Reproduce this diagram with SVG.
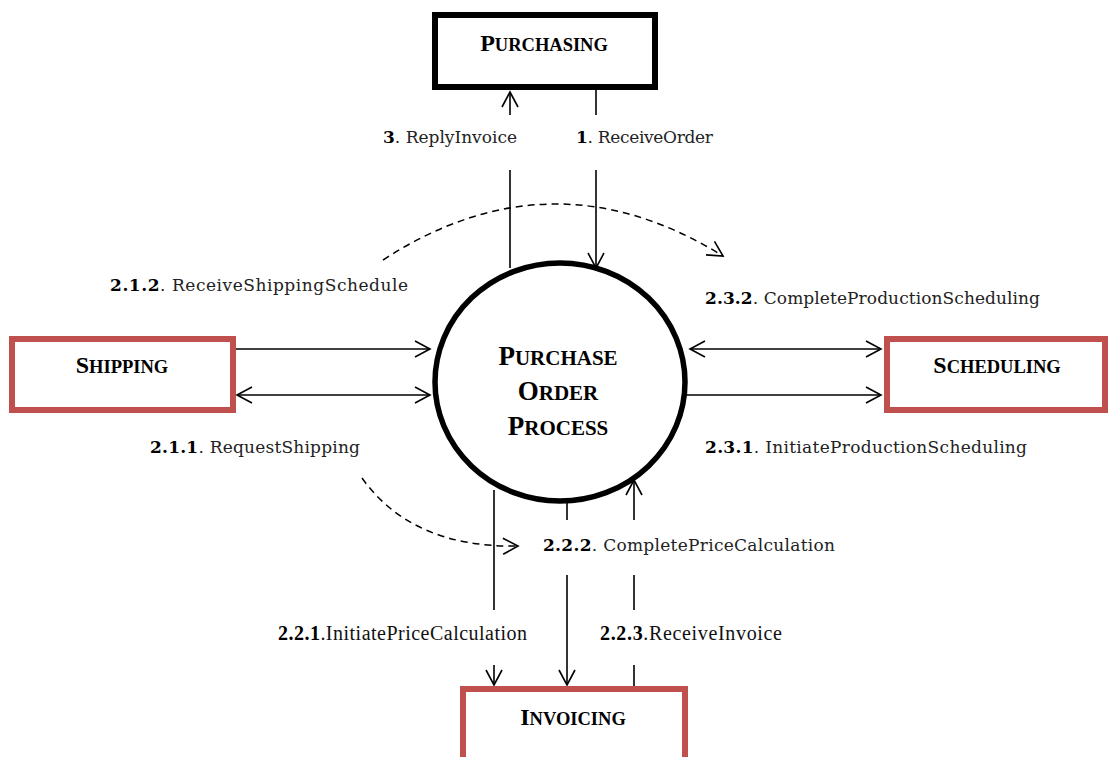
<svg xmlns="http://www.w3.org/2000/svg" width="1109" height="757" viewBox="0 0 1109 757">
  <style>
    .ext { fill: #fff; stroke: #C0504D; stroke-width: 6; }
    .main { fill: #fff; stroke: #000; stroke-width: 6; }
    .proc { fill: #fff; stroke: #000; stroke-width: 5.5; }
    .title { font-family: "Liberation Serif", "Times New Roman", serif; font-weight: bold; fill: #000; text-anchor: middle; }
    .big { font-size: 24px; }
    .sc { font-size: 18.5px; }
    .pbig { font-size: 27px; }
    .psc { font-size: 21px; }
    .lbl { font-family: "DejaVu Serif", serif; font-size: 17px; fill: #222; }
    .lbl2 { font-family: "Liberation Serif", "Times New Roman", serif; font-size: 20px; fill: #111; }
    .b { font-weight: bold; fill: #000; }
    .flow { fill: none; stroke: #000; stroke-width: 1.6; }
    .dash { fill: none; stroke: #000; stroke-width: 1.5; stroke-dasharray: 7 5; }
  </style>
  <defs>
    <marker id="arrow" viewBox="0 0 18 18" refX="16" refY="9" markerWidth="18" markerHeight="18" markerUnits="userSpaceOnUse" orient="auto-start-reverse">
      <path d="M1,1 L16,9 L1,17" fill="none" stroke="#000" stroke-width="1.6"/>
    </marker>
  </defs>

  <rect width="1109" height="757" fill="#fff"/>

  <!-- connectors -->
  <g id="connectors">
    <!-- 3. ReplyInvoice (up to Purchasing) -->
    <line class="flow" x1="510" y1="268" x2="510" y2="170"/>
    <line class="flow" x1="510" y1="115" x2="510" y2="92" marker-end="url(#arrow)"/>
    <!-- 1. ReceiveOrder (down to the process) -->
    <line class="flow" x1="596" y1="90" x2="596" y2="115"/>
    <line class="flow" x1="596" y1="170" x2="596" y2="268" marker-end="url(#arrow)"/>

    <!-- Shipping side -->
    <line class="flow" x1="234" y1="349" x2="430" y2="349" marker-end="url(#arrow)"/>
    <line class="flow" x1="237" y1="395" x2="430" y2="395" marker-start="url(#arrow)" marker-end="url(#arrow)"/>

    <!-- Scheduling side -->
    <line class="flow" x1="690" y1="349" x2="881" y2="349" marker-start="url(#arrow)" marker-end="url(#arrow)"/>
    <line class="flow" x1="686" y1="395" x2="881" y2="395" marker-end="url(#arrow)"/>

    <!-- Invoicing side -->
    <line class="flow" x1="494" y1="490" x2="494" y2="610"/>
    <line class="flow" x1="494" y1="665" x2="494" y2="685" marker-end="url(#arrow)"/>
    <line class="flow" x1="567" y1="502" x2="567" y2="520"/>
    <line class="flow" x1="567" y1="575" x2="567" y2="685" marker-end="url(#arrow)"/>
    <line class="flow" x1="634" y1="689" x2="634" y2="665"/>
    <line class="flow" x1="634" y1="610" x2="634" y2="575"/>
    <line class="flow" x1="634" y1="520" x2="634" y2="480" marker-end="url(#arrow)"/>

    <!-- sequence hints -->
    <path class="dash" d="M383,260 Q552,150 723,256" marker-end="url(#arrow)"/>
    <path class="dash" d="M362,478 Q412,548 518,546" marker-end="url(#arrow)"/>
  </g>

  <!-- flow labels -->
  <g id="labels">
    <text class="lbl" x="383" y="143" textLength="134"><tspan class="b">3</tspan>. ReplyInvoice</text>
    <text class="lbl" x="576" y="143" textLength="137"><tspan class="b">1</tspan>. ReceiveOrder</text>
    <text class="lbl" x="110" y="291" textLength="298"><tspan class="b">2.1.2</tspan>. ReceiveShippingSchedule</text>
    <text class="lbl" x="150" y="453" textLength="210"><tspan class="b">2.1.1</tspan>. RequestShipping</text>
    <text class="lbl" x="705" y="304" textLength="335"><tspan class="b">2.3.2</tspan>. CompleteProductionScheduling</text>
    <text class="lbl" x="705" y="453" textLength="322"><tspan class="b">2.3.1</tspan>. InitiateProductionScheduling</text>
    <text class="lbl" x="543" y="551" textLength="292"><tspan class="b">2.2.2</tspan>. CompletePriceCalculation</text>
    <text class="lbl2" x="278" y="640" textLength="249"><tspan class="b">2.2.1</tspan>.InitiatePriceCalculation</text>
    <text class="lbl2" x="600" y="640" textLength="182"><tspan class="b">2.2.3</tspan>.ReceiveInvoice</text>
  </g>

  <!-- nodes -->
  <g id="purchasing">
    <rect class="main" x="435" y="15" width="220" height="72"/>
    <text class="title" x="544" y="51"><tspan class="big">P</tspan><tspan class="sc">URCHASING</tspan></text>
  </g>

  <g id="shipping">
    <rect class="ext" x="12" y="339" width="221" height="71"/>
    <text class="title" x="122" y="373"><tspan class="big">S</tspan><tspan class="sc">HIPPING</tspan></text>
  </g>

  <g id="scheduling">
    <rect class="ext" x="887" y="339" width="218" height="71"/>
    <text class="title" x="997" y="373"><tspan class="big">S</tspan><tspan class="sc">CHEDULING</tspan></text>
  </g>

  <g id="invoicing">
    <rect class="ext" x="463" y="689" width="222" height="90"/>
    <text class="title" x="573" y="725"><tspan class="big">I</tspan><tspan class="sc">NVOICING</tspan></text>
  </g>

  <g id="purchase-order-process">
    <ellipse class="proc" cx="560" cy="382" rx="125" ry="119"/>
    <text class="title" x="558" y="365"><tspan class="pbig">P</tspan><tspan class="psc">URCHASE</tspan></text>
    <text class="title" x="558" y="400"><tspan class="pbig">O</tspan><tspan class="psc">RDER</tspan></text>
    <text class="title" x="558" y="435"><tspan class="pbig">P</tspan><tspan class="psc">ROCESS</tspan></text>
  </g>
</svg>
